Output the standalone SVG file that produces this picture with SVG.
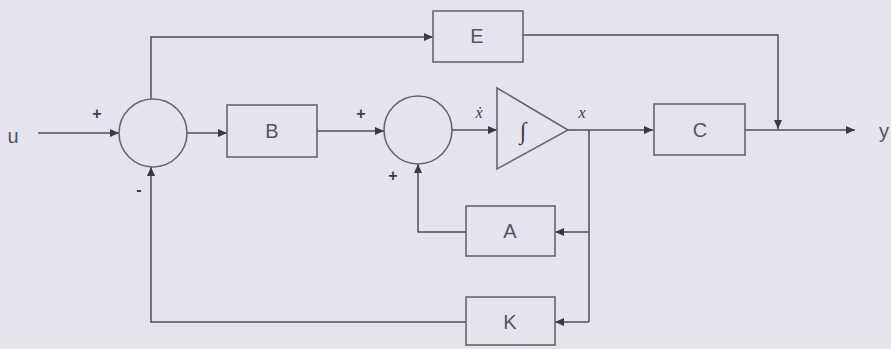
<svg xmlns="http://www.w3.org/2000/svg" width="891" height="349" viewBox="0 0 891 349">
<style>
.bg{fill:#e5e4ee}
.blk{fill:none;stroke:#67666e;stroke-width:1.6}
.ln{fill:none;stroke:#4f4e56;stroke-width:1.5}
.t{font-family:"Liberation Sans",Arial,sans-serif;font-size:20px;fill:#55545c;text-anchor:middle;dominant-baseline:central}
.s{font-family:"Liberation Sans",Arial,sans-serif;font-size:16px;font-weight:bold;fill:#3d3c44;text-anchor:middle;dominant-baseline:central}
.m{font-family:"Liberation Serif","Times New Roman",serif;font-style:italic;font-size:16px;fill:#3d3c44;text-anchor:middle;dominant-baseline:central}
</style>
<defs>
<marker id="ah" markerUnits="userSpaceOnUse" markerWidth="10" markerHeight="8" refX="9" refY="4" orient="auto">
<path d="M0,0 L9,4 L0,8 z" fill="#3a3940"/>
</marker>
</defs>
<rect class="bg" x="0" y="0" width="891" height="349"/>
<g id="connectors">
<path class="ln" d="M38,133 H119" marker-end="url(#ah)"/>
<path class="ln" d="M187,133 H227" marker-end="url(#ah)"/>
<path class="ln" d="M317,131 H384" marker-end="url(#ah)"/>
<path class="ln" d="M452,130 H497" marker-end="url(#ah)"/>
<path class="ln" d="M568,130 H653" marker-end="url(#ah)"/>
<path class="ln" d="M745,130 H855" marker-end="url(#ah)"/>
<path class="ln" d="M151,99 V37 H433" marker-end="url(#ah)"/>
<path class="ln" d="M523,35 H778 V129" marker-end="url(#ah)"/>
<path class="ln" d="M589,130 V322"/>
<path class="ln" d="M589,232 H555" marker-end="url(#ah)"/>
<path class="ln" d="M589,322 H555" marker-end="url(#ah)"/>
<path class="ln" d="M466,232 H418 V164" marker-end="url(#ah)"/>
<path class="ln" d="M466,322 H151 V167" marker-end="url(#ah)"/>
</g>
<g id="input"><text class="t" x="13" y="136">u</text></g>
<g id="sum1">
<circle class="blk" cx="153" cy="133" r="34"/>
<text class="s" x="97" y="113">+</text>
<text class="s" x="139" y="189">-</text>
</g>
<g id="B"><rect class="blk" x="227" y="105" width="90" height="52"/><text class="t" x="272" y="131">B</text></g>
<g id="sum2">
<circle class="blk" cx="418" cy="130" r="34"/>
<text class="s" x="361" y="113">+</text>
<text class="s" x="393" y="175">+</text>
</g>
<g id="integrator">
<path class="blk" d="M497,88 L568,130 L497,169 z"/>
<text x="523" y="131" font-family="Liberation Serif,serif" font-size="24" fill="#3d3c44" text-anchor="middle" dominant-baseline="central">∫</text>
<text class="m" x="479" y="112">ẋ</text>
<text class="m" x="582" y="112">x</text>
</g>
<g id="E"><rect class="blk" x="433" y="11" width="90" height="51"/><text class="t" x="477" y="36">E</text></g>
<g id="C"><rect class="blk" x="654" y="104" width="91" height="51"/><text class="t" x="700" y="130">C</text></g>
<g id="A"><rect class="blk" x="466" y="206" width="89" height="50"/><text class="t" x="510" y="231">A</text></g>
<g id="K"><rect class="blk" x="466" y="297" width="89" height="48"/><text class="t" x="510" y="322">K</text></g>
<g id="output"><text class="t" x="884" y="131">y</text></g>
</svg>
